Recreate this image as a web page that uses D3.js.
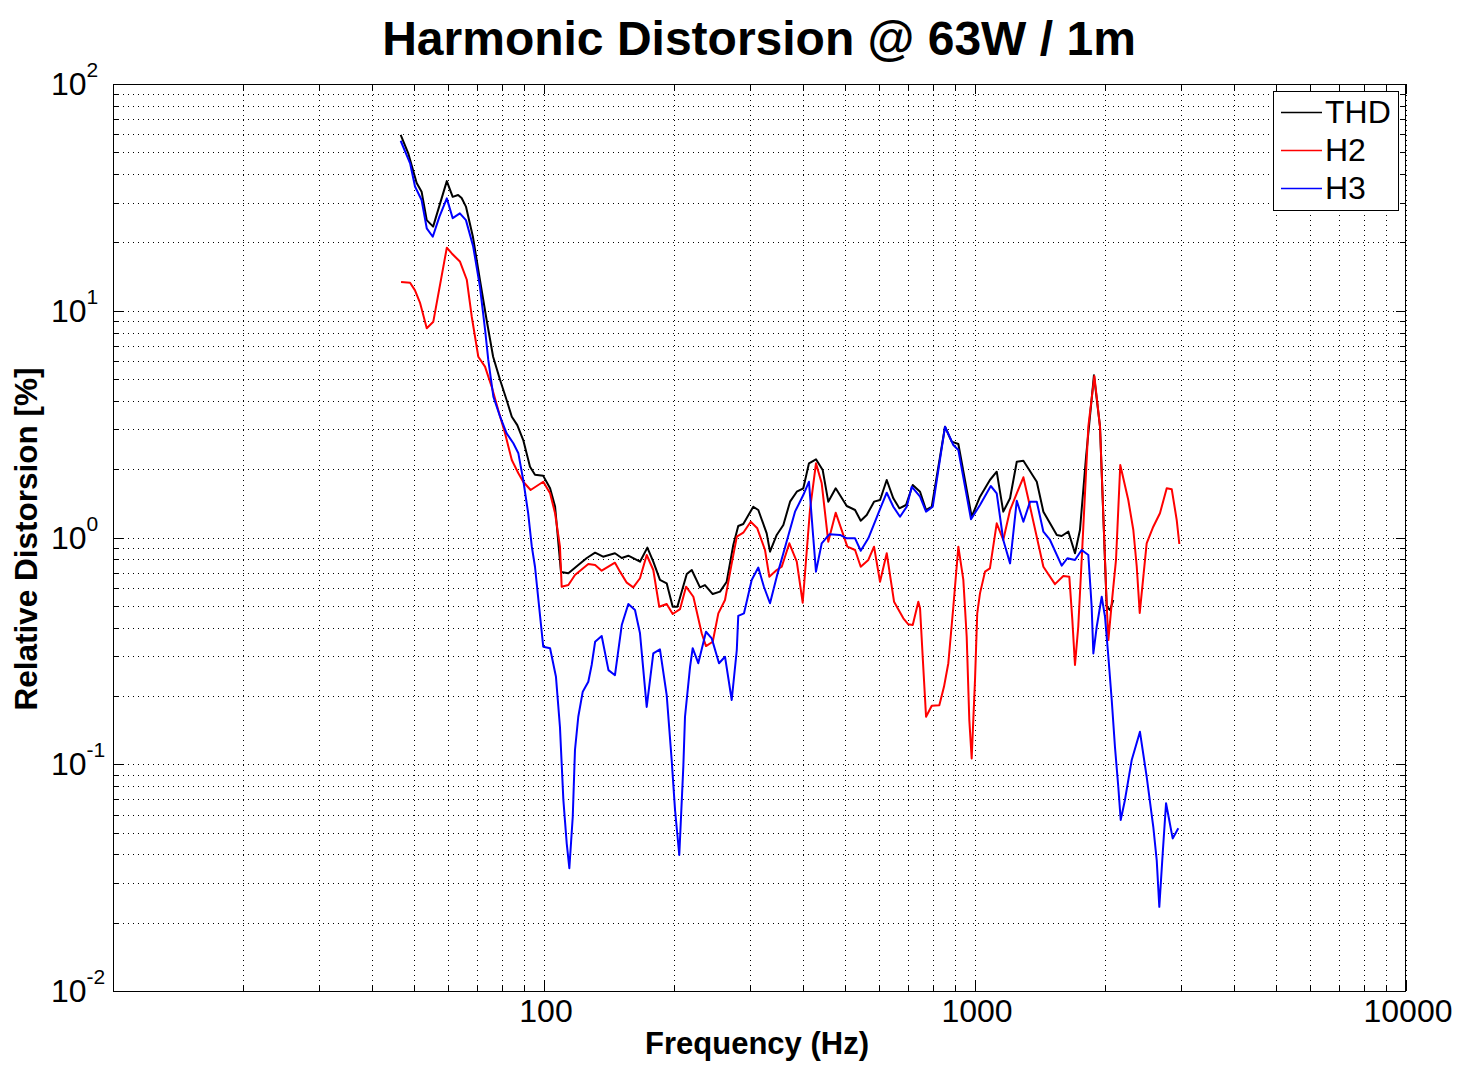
<!DOCTYPE html>
<html><head><meta charset="utf-8">
<script src="https://cdn.jsdelivr.net/npm/d3@7"></script>
<style>body{margin:0;background:#fff}</style>
</head><body>
<svg id="c" width="1467" height="1082"></svg>
<script>
// ---- data (frequency Hz, relative distortion %) ----
const thd = [[46.5,59.6],[48.4,49.6],[50.65,36.6],[52.0,33.5],[53.45,25.1],[55.3,23.5],[59.5,37.3],[61.4,31.8],[63.2,32.4],[64.4,31.4],[65.9,28.8],[68.4,21.2],[71.0,13.7],[73.6,9.10],[76.2,6.27],[79.1,4.95],[81.9,4.04],[84.2,3.41],[86.7,3.13],[89.5,2.69],[92.8,2.05],[95.3,1.89],[99.6,1.87],[103.3,1.65],[106.1,1.37],[109.5,0.705],[113.9,0.695],[120.1,0.756],[125.7,0.812],[131.4,0.857],[137.1,0.823],[146.1,0.852],[151.5,0.812],[156.9,0.831],[167.0,0.782],[173.7,0.902],[179.3,0.782],[185.8,0.650],[192.6,0.628],[198.9,0.495],[203.9,0.495],[214.4,0.690],[220.2,0.719],[230.1,0.603],[236.3,0.617],[246.3,0.563],[256.1,0.577],[265.4,0.638],[274.9,0.927],[282.3,1.124],[290.0,1.147],[305.9,1.367],[314.2,1.322],[328.6,1.043],[334.5,0.866],[346.7,1.026],[359.2,1.135],[372.3,1.439],[385.9,1.592],[399.6,1.648],[411.9,2.124],[427.6,2.212],[443.2,1.985],[456.6,1.439],[475.1,1.648],[504.0,1.377],[526.9,1.322],[543.1,1.186],[560.8,1.256],[583.1,1.439],[602.1,1.464],[624.0,1.793],[646.4,1.489],[667.5,1.345],[691.8,1.391],[717.1,1.704],[745.6,1.592],[769.9,1.322],[793.7,1.367],[852.0,3.08],[883.0,2.646],[914.9,2.585],[982.4,1.235],[1027,1.513],[1083,1.793],[1123,1.951],[1163,1.300],[1206,1.489],[1250,2.159],[1295,2.181],[1391,1.762],[1441,1.300],[1548,1.026],[1589,1.015],[1647,1.061],[1706,0.852],[1752,1.079],[1810,2.271],[1888,5.2],[1950,3.08],[2021,0.495],[2057,0.479],[2094,0.530]];

const h2 = [[46.6,13.4],[48.9,13.3],[50.2,12.3],[51.6,10.8],[53.45,8.37],[55.36,8.95],[59.5,18.97],[61.1,17.9],[63.8,16.5],[66.2,13.7],[67.98,9.41],[70.4,6.27],[72.97,5.67],[75.6,4.63],[78.3,3.65],[81.2,2.88],[84.2,2.196],[87.2,1.919],[89.5,1.762],[93.1,1.620],[99.6,1.762],[103.3,1.566],[106.1,1.279],[108.9,0.911],[109.9,0.607],[113.9,0.617],[118.0,0.683],[126.7,0.764],[131.4,0.756],[136.1,0.714],[146.1,0.774],[150.1,0.707],[155.6,0.632],[161.1,0.603],[167.0,0.661],[173.1,0.837],[179.3,0.719],[185.1,0.495],[192.6,0.509],[198.9,0.460],[206.8,0.483],[213.6,0.607],[222.1,0.548],[232.2,0.378],[237.6,0.332],[246.3,0.347],[253.8,0.463],[263.0,0.530],[272.6,0.769],[280.1,1.008],[290.0,1.050],[301.7,1.174],[312.5,1.098],[325.7,0.881],[333.2,0.672],[346.7,0.719],[356.1,0.743],[370.9,0.943],[385.9,0.782],[398.3,0.516],[414.1,1.322],[427.6,2.124],[440.9,1.734],[456.6,0.958],[475.1,1.287],[505.6,0.911],[526.9,0.881],[543.1,0.743],[565.6,0.796],[583.1,0.911],[602.1,0.638],[624.0,0.852],[648.9,0.521],[681.9,0.440],[700.3,0.414],[717.1,0.411],[738.7,0.521],[745.6,0.487],[756.2,0.298],[769.9,0.162],[793.7,0.181],[826.5,0.182],[847.5,0.220],[867.2,0.279],[890.7,0.495],[914.9,0.911],[939.6,0.650],[956.6,0.365],[970.0,0.157],[982.4,0.106],[1000,0.235],[1012,0.463],[1027,0.567],[1055,0.707],[1083,0.731],[1123,1.155],[1163,0.975],[1206,1.322],[1250,1.566],[1295,1.843],[1342,1.367],[1441,0.743],[1533,0.623],[1603,0.676],[1655,0.672],[1682,0.433],[1706,0.274],[1736,0.404],[1768,0.796],[1832,3.08],[1892,5.15],[1950,3.08],[2021,0.504],[2039,0.353],[2076,0.514],[2124,0.796],[2173,2.087],[2268,1.464],[2330,1.079],[2373,0.743],[2411,0.465],[2502,0.943],[2592,1.116],[2686,1.279],[2785,1.648],[2861,1.631],[2938,1.194],[2979,0.936]];

const h3 = [[46.5,56.2],[48.9,44.7],[50.2,35.3],[52.0,30.8],[53.45,23.1],[55.2,21.2],[57.2,26.0],[59.5,31.3],[61.4,25.6],[63.8,26.9],[65.9,25.1],[68.5,19.2],[71.0,12.8],[73.0,8.23],[74.25,6.07],[76.3,4.18],[79.1,3.41],[81.9,2.88],[84.9,2.603],[87.2,2.351],[89.5,1.793],[91.9,1.279],[93.7,0.911],[95.3,0.743],[99.6,0.330],[103.3,0.325],[106.6,0.243],[108.9,0.146],[110.9,0.0696],[112.9,0.0448],[114.5,0.0348],[116.6,0.0587],[118.0,0.1156],[120.1,0.162],[123.0,0.209],[126.7,0.231],[129.0,0.274],[131.4,0.347],[136.1,0.368],[141.1,0.260],[146.1,0.247],[151.5,0.411],[156.9,0.509],[162.6,0.479],[167.0,0.378],[173.1,0.179],[179.3,0.308],[185.8,0.321],[192.6,0.202],[197.8,0.1044],[201.4,0.0628],[206.0,0.0398],[210.5,0.0976],[212.4,0.162],[218.2,0.269],[221.3,0.325],[228.0,0.279],[237.6,0.384],[245.0,0.359],[254.7,0.279],[263.0,0.298],[272.6,0.192],[280.1,0.319],[282.3,0.451],[291.1,0.463],[303.3,0.650],[314.2,0.737],[323.9,0.605],[334.5,0.513],[346.7,0.672],[359.2,0.852],[382.3,1.300],[399.6,1.539],[411.9,1.762],[420.1,1.079],[427.6,0.707],[440.9,0.943],[459.2,1.033],[486.3,1.026],[504.0,0.992],[526.9,0.992],[543.1,0.874],[565.6,0.992],[596.6,1.279],[624.0,1.576],[646.4,1.367],[669.9,1.235],[694.4,1.367],[713.2,1.675],[745.6,1.513],[769.9,1.300],[798.0,1.367],[852.0,3.08],[890.7,2.558],[914.9,2.431],[978.8,1.203],[1027,1.391],[1088,1.687],[1123,1.566],[1163,0.975],[1206,0.769],[1250,1.453],[1295,1.174],[1342,1.439],[1391,1.439],[1441,1.061],[1493,0.975],[1589,0.751],[1638,0.810],[1706,0.796],[1768,0.881],[1832,0.837],[1865,0.495],[1882,0.308],[1916,0.404],[1968,0.548],[2003,0.447],[2039,0.298],[2076,0.192],[2112,0.1195],[2150,0.0796],[2178,0.0568],[2228,0.0696],[2310,0.1044],[2414,0.139],[2502,0.0881],[2592,0.0530],[2640,0.0378],[2677,0.0235],[2726,0.0405],[2775,0.0673],[2875,0.0471],[2963,0.0522]];

const seriesNames = ["THD","H2","H3"];
const seriesColors = ["#000000","#ff0000","#0000ff"];
const xTickLabels = [100,1000,10000];
const yTickExponents = [2,1,0,-1,-2];
const titleText = "Harmonic Distorsion @ 63W / 1m";
const xLabel = "Frequency (Hz)";
const yLabel = "Relative Distorsion [%]";

// ---- layout ----
const W = 1467, H = 1082;
const L = 113, R = 1406, T = 84, B = 991;
const svg = d3.select('#c');
svg.append('rect').attr('width', W).attr('height', H).attr('fill', '#fff');

const x = d3.scaleLog().domain([10, 10000]).range([L, R]);
const y = d3.scaleLog().domain([0.01, 100]).range([B, T]);

const xMinor = [], yMinor = [];
[10, 100, 1000].forEach(d => { for (let k = 1; k <= 9; k++) xMinor.push(d * k); });
xMinor.push(10000);
[0.01, 0.1, 1, 10].forEach(d => { for (let k = 1; k <= 9; k++) yMinor.push(+(d * k).toPrecision(3)); });
yMinor.push(100);
const xMajor = [10, 100, 1000, 10000];
const yMajor = [0.01, 0.1, 1, 10, 100];

// grid (dotted)
const gx = svg.append('g').attr('transform', `translate(0,${B})`)
  .call(d3.axisBottom(x).tickValues(xMinor).tickSize(-(B - T)).tickFormat(''));
const gy = svg.append('g').attr('transform', `translate(${L},0)`)
  .call(d3.axisLeft(y).tickValues(yMinor).tickSize(-(R - L)).tickFormat(''));
[gx, gy].forEach(g => {
  g.select('.domain').remove();
  g.selectAll('line').attr('stroke', '#000').attr('stroke-width', 1)
    .attr('stroke-dasharray', '1,4').attr('shape-rendering', 'crispEdges');
});

// tick marks on four sides (inward)
function ticks(axisFn, scale, vals, size, tr) {
  const g = svg.append('g').attr('transform', tr)
    .call(axisFn(scale).tickValues(vals).tickSize(-size).tickFormat(''));
  g.select('.domain').remove();
  g.selectAll('line').attr('stroke', '#000').attr('shape-rendering', 'crispEdges');
}
ticks(d3.axisBottom, x, xMinor, 6, `translate(0,${B})`);
ticks(d3.axisBottom, x, xMajor, 10, `translate(0,${B})`);
ticks(d3.axisTop, x, xMinor, 6, `translate(0,${T})`);
ticks(d3.axisTop, x, xMajor, 10, `translate(0,${T})`);
ticks(d3.axisLeft, y, yMinor, 6, `translate(${L},0)`);
ticks(d3.axisLeft, y, yMajor, 10, `translate(${L},0)`);
ticks(d3.axisRight, y, yMinor, 6, `translate(${R},0)`);
ticks(d3.axisRight, y, yMajor, 10, `translate(${R},0)`);

// frame
svg.append('rect').attr('x', L + 0.5).attr('y', T + 0.5)
  .attr('width', R - L - 1).attr('height', B - T)
  .attr('fill', 'none').attr('stroke', '#000').attr('stroke-width', 1);

const font = "'Liberation Sans', Arial, Helvetica, sans-serif";

// x tick labels
svg.append('g').selectAll('text').data(xTickLabels).join('text')
  .attr('x', d => x(d) + 2).attr('y', 1022)
  .attr('text-anchor', 'middle').attr('font-family', font).attr('font-size', 32)
  .text(d => d);

// y tick labels with superscripts
const yl = svg.append('g').selectAll('text').data(yTickExponents).join('text')
  .attr('x', 51).attr('y', d => y(Math.pow(10, d)) + 11)
  .attr('font-family', font).attr('font-size', 32);
yl.append('tspan').text('10');
yl.append('tspan').attr('font-size', 21).attr('dy', -18).text(d => d);

// axis titles
svg.append('text').attr('x', 757).attr('y', 1054).attr('text-anchor', 'middle')
  .attr('font-family', font).attr('font-weight', 'bold').attr('font-size', 31).text(xLabel);
svg.append('text').attr('transform', 'translate(37,539) rotate(-90)').attr('text-anchor', 'middle')
  .attr('font-family', font).attr('font-weight', 'bold').attr('font-size', 31.5).text(yLabel);
svg.append('text').attr('x', 759).attr('y', 55).attr('text-anchor', 'middle')
  .attr('font-family', font).attr('font-weight', 'bold').attr('font-size', 48).text(titleText);

// curves
const line = d3.line().x(d => x(d[0])).y(d => y(d[1]));
[thd, h2, h3].forEach((s, i) => {
  svg.append('path').datum(s).attr('d', line).attr('fill', 'none')
    .attr('stroke', seriesColors[i]).attr('stroke-width', 2).attr('stroke-linejoin', 'round');
});

// legend
svg.append('rect').attr('x', 1273.5).attr('y', 91.5).attr('width', 125).attr('height', 119)
  .attr('fill', '#fff').attr('stroke', '#000').attr('stroke-width', 1);
const lg = svg.append('g').selectAll('g').data(seriesNames).join('g')
  .attr('transform', (d, i) => `translate(0,${112 + i * 38})`);
lg.append('line').attr('x1', 1281).attr('x2', 1322).attr('y1', 0.5).attr('y2', 0.5)
  .attr('stroke', (d, i) => seriesColors[i]).attr('stroke-width', 1.5);
lg.append('text').attr('x', 1325).attr('y', 11).attr('font-family', font).attr('font-size', 32)
  .text(d => d);
</script>
</body></html>
